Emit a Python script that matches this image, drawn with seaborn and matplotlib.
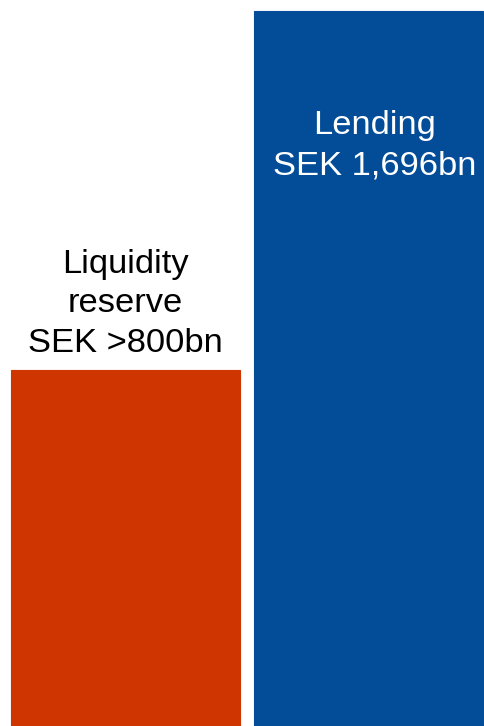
import matplotlib
matplotlib.use("Agg")
import matplotlib.pyplot as plt
import seaborn as sns
import pandas as pd

# Funding balance: liquidity reserve vs lending (SEK bn)
categories = ["Liquidity reserve", "Lending"]
values = [845, 1696]
labels = ["Liquidity\nreserve\nSEK >800bn", "Lending\nSEK 1,696bn"]
colors = ["#CF3500", "#024C98"]
text_colors = ["black", "white"]

df = pd.DataFrame({"category": categories, "value": values})

sns.set_theme(style="white")
plt.rcParams["font.family"] = ["Liberation Sans", "DejaVu Sans"]

fig = plt.figure(figsize=(4.85, 7.26), dpi=100)
ax = fig.add_axes([0, 0, 1, 1])

sns.barplot(data=df, x="category", y="value", hue="category",
            palette=colors, width=0.942, dodge=False, legend=False,
            saturation=1, ax=ax)
for p in ax.patches:
    p.set_edgecolor(p.get_facecolor())
    p.set_linewidth(0.8)

ax.set_xlim(-0.5163, 1.4796)
ax.set_ylim(0, 1722)
ax.axis("off")

# Liquidity label sits above its bar, lending label inside the bar
ax.text(0, 1001, labels[0], ha="center", va="center",
        fontsize=24.8, color=text_colors[0], linespacing=1.37)
ax.text(1.027, 1376, labels[1], ha="center", va="center",
        fontsize=24.8, color=text_colors[1], linespacing=1.37)

fig.savefig("out.png", dpi=100)
